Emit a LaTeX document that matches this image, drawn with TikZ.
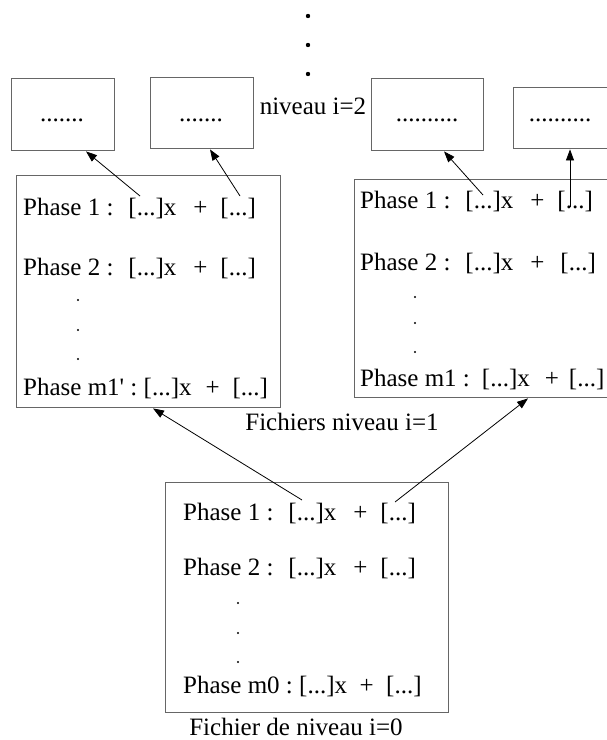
\documentclass[tikz,border=0pt]{standalone}
\usepackage{fontspec}
\setmainfont{Liberation Serif}
\usetikzlibrary{arrows.meta,calc}
\newcommand\gp[1]{\hspace{#1bp}}
\begin{document}
\begin{tikzpicture}[x=1bp,y=-1bp,
  font=\fontsize{25bp}{30bp}\selectfont,
  frame/.style={draw=black!60, line width=1.4bp, inner sep=0pt, anchor=north west},
  row/.style={anchor=base west, inner sep=0pt},
  lbl/.style={anchor=base, inner sep=0pt},
  vdot/.style={circle, fill=black, inner sep=0pt, minimum size=2.4bp},
  bigdot/.style={circle, fill=black, inner sep=0pt, minimum size=4.4bp},
  link/.style={draw=black, line width=0.8bp, -{Triangle[length=11bp,width=8bp]}}]
\useasboundingbox (0,0) rectangle (607,740);

% vertical ellipsis above level 2
\node[bigdot] (t1) at (308,16) {};
\node[bigdot] (t2) at (308,45) {};
\node[bigdot] (t3) at (308,74) {};

% level 2 files
\node[frame, minimum width=103bp, minimum height=72bp] (A) at (11,78) {};
\node[frame, minimum width=103bp, minimum height=71bp] (B) at (150,77) {};
\node[frame, minimum width=112bp, minimum height=72bp] (C) at (371,78) {};
\node[frame, minimum width=112bp, minimum height=61bp] (D) at (513,87) {};
\node[lbl] (At) at (62,121) {.......};
\node[lbl] (Bt) at (201,121) {.......};
\node[lbl] (Ct) at (427,121) {..........};
\node[lbl] (Dt) at (560,121) {..........};
\node[lbl] (n2) at (313,114) {niveau i=2};

% level 1 files
\node[frame, minimum width=264bp, minimum height=232bp] (L) at (16,175) {};
\node[row] (L1) at (23,215) {Phase 1 :\gp{15}[...]x\gp{17}+\gp{13}[...]};
\node[row] (L2) at (23,275) {Phase 2 :\gp{15}[...]x\gp{17}+\gp{13}[...]};
\node[vdot] (Ld1) at (78,300) {};
\node[vdot] (Ld2) at (78,330) {};
\node[vdot] (Ld3) at (78,359) {};
\node[row] (L3) at (23,395) {Phase m1\textquotesingle\ :\ [...]x\gp{14}+\gp{13}[...]};

\node[frame, minimum width=270bp, minimum height=218bp] (R) at (354,179) {};
\node[row] (R1) at (360,208) {Phase 1 :\gp{15}[...]x\gp{17}+\gp{13}[...]};
\node[row] (R2) at (360,270) {Phase 2 :\gp{15}[...]x\gp{17}+\gp{16}[...]};
\node[vdot] (Rd1) at (415,297) {};
\node[vdot] (Rd2) at (415,323) {};
\node[vdot] (Rd3) at (415,352) {};
\node[row] (R3) at (360,386) {Phase m1 :\gp{12}[...]x\gp{15}+\gp{10}[...]};
\node[lbl] (n1) at (342,430) {Fichiers niveau i=1};

% level 0 file
\node[frame, minimum width=283bp, minimum height=230bp] (Z) at (165,482) {};
\node[row] (Z1) at (183,520) {Phase 1 :\gp{15}[...]x\gp{17}+\gp{13}[...]};
\node[row] (Z2) at (183,575) {Phase 2 :\gp{15}[...]x\gp{17}+\gp{13}[...]};
\node[vdot] (Zd1) at (238,603) {};
\node[vdot] (Zd2) at (238,633) {};
\node[vdot] (Zd3) at (238,662) {};
\node[row] (Z3) at (183,693) {Phase m0 :\ [...]x\ \ +\ \ [...]};
\node[lbl] (n0) at (296,735) {Fichier de niveau i=0};

% arrow origins inside the coefficient brackets
\coordinate (sL1) at (140,196);
\coordinate (sL2) at (240,196);
\coordinate (sR1) at (483,195);
\coordinate (sR2) at (570,207);
\coordinate (sZ1) at (302,500);
\coordinate (sZ2) at (395,502);

% links between levels
\draw[link] (sL1) -- ($(A.south west)+(75,0)$);
\draw[link] (sL2) -- ($(B.south west)+(60,0)$);
\draw[link] (sR1) -- ($(C.south west)+(73,0)$);
\draw[link] (sR2) -- ($(D.south west)+(57,0)$);
\draw[link] (sZ1) -- ($(L.south west)+(137,0)$);
\draw[link] (sZ2) -- ($(R.south west)+(174,0)$);
\end{tikzpicture}
\end{document}
